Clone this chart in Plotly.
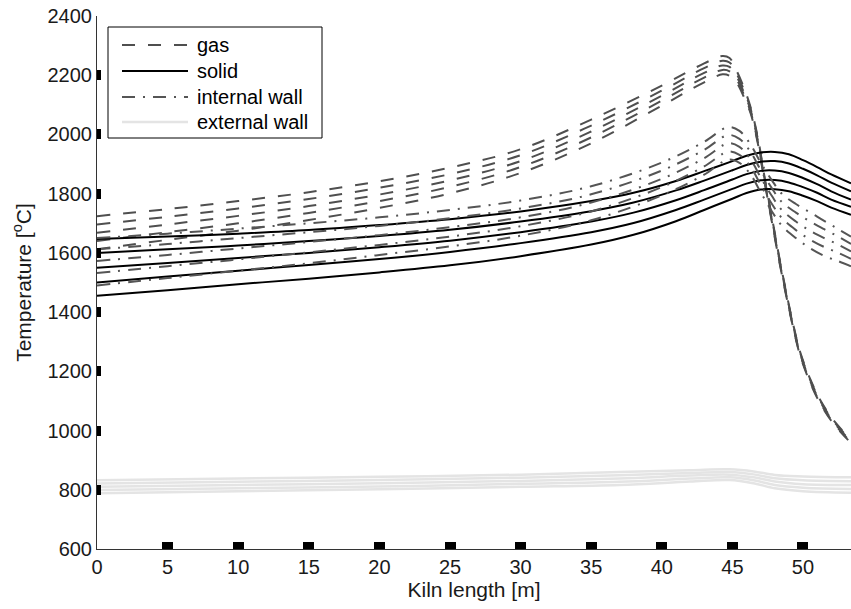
import plotly.graph_objects as go

# ---------------- data ----------------
x_gas = [0, 5, 10, 15, 20, 25, 30, 35, 40, 43, 44.3, 44.8, 45.3, 45.8, 46.3, 46.8,
         47.3, 47.8, 48.3, 48.8, 49.3, 49.8, 50.5, 51.2, 52.0, 52.7, 53.4]
gas_1 = [1724, 1748, 1775, 1805, 1842, 1888, 1950, 2050, 2165, 2240, 2265, 2258, 2215, 2160, 2090, 1990,
         1850, 1720, 1590, 1470, 1360, 1265, 1175, 1105, 1045, 1005, 970]
gas_2 = [1696, 1722, 1750, 1782, 1820, 1866, 1930, 2030, 2148, 2224, 2249, 2243, 2205, 2152, 2085, 1985,
         1846, 1716, 1587, 1467, 1357, 1262, 1172, 1102, 1042, 1002, 967]
gas_3 = [1668, 1696, 1725, 1758, 1797, 1845, 1910, 2010, 2131, 2208, 2233, 2228, 2195, 2144, 2080, 1980,
         1842, 1712, 1584, 1464, 1354, 1259, 1169, 1099, 1039, 999, 964]
gas_4 = [1640, 1670, 1700, 1735, 1775, 1823, 1890, 1990, 2114, 2192, 2218, 2213, 2185, 2136, 2075, 1975,
         1838, 1708, 1580, 1461, 1351, 1256, 1166, 1096, 1036, 996, 961]
gas_5 = [1612, 1644, 1675, 1711, 1752, 1801, 1870, 1970, 2097, 2176, 2203, 2198, 2175, 2128, 2070, 1970,
         1834, 1704, 1576, 1458, 1348, 1253, 1163, 1093, 1033, 993, 958]

x_solid = [0, 5, 10, 15, 20, 25, 30, 35, 38, 41, 43, 45, 46, 47, 48, 49, 50, 51, 52, 53.4]
solid_1 = [1647, 1655, 1665, 1677, 1694, 1714, 1740, 1775, 1803, 1843, 1876, 1910, 1928, 1939, 1941, 1933, 1913, 1890, 1865, 1835]
solid_2 = [1600, 1612, 1625, 1640, 1657, 1678, 1706, 1741, 1770, 1811, 1844, 1879, 1897, 1908, 1910, 1902, 1884, 1862, 1837, 1808]
solid_3 = [1550, 1566, 1583, 1600, 1619, 1641, 1670, 1706, 1736, 1778, 1812, 1848, 1866, 1877, 1878, 1870, 1853, 1832, 1808, 1780]
solid_4 = [1500, 1520, 1540, 1559, 1579, 1603, 1633, 1670, 1701, 1745, 1780, 1816, 1834, 1845, 1846, 1838, 1822, 1803, 1780, 1756]
solid_5 = [1455, 1474, 1494, 1513, 1534, 1558, 1589, 1628, 1661, 1707, 1745, 1783, 1802, 1814, 1815, 1808, 1793, 1775, 1753, 1729]

x_wall = [0, 5, 10, 15, 20, 25, 30, 35, 40, 43, 44.7, 45.5, 46.3, 47, 47.8, 48.5, 49.5, 50.5, 51.5, 52.5, 53.4]
wall_1 = [1650, 1665, 1682, 1700, 1720, 1745, 1777, 1825, 1905, 1975, 2025, 2012, 1965, 1905, 1845, 1800, 1765, 1737, 1708, 1680, 1655]
wall_2 = [1612, 1630, 1650, 1670, 1691, 1717, 1750, 1798, 1878, 1948, 1998, 1985, 1940, 1880, 1818, 1772, 1736, 1706, 1680, 1655, 1630]
wall_3 = [1573, 1593, 1615, 1637, 1660, 1687, 1720, 1770, 1850, 1920, 1970, 1958, 1915, 1855, 1792, 1745, 1706, 1675, 1650, 1628, 1605]
wall_4 = [1532, 1555, 1578, 1602, 1627, 1655, 1690, 1740, 1822, 1892, 1942, 1931, 1890, 1830, 1765, 1718, 1677, 1645, 1620, 1600, 1580]
wall_5 = [1490, 1515, 1540, 1565, 1593, 1622, 1658, 1710, 1794, 1864, 1915, 1904, 1864, 1805, 1740, 1692, 1650, 1616, 1590, 1572, 1555]

x_ext = [0, 10, 20, 30, 37, 42, 44.8, 46.5, 48, 50, 53.4]
ext_1 = [832, 838, 844, 851, 860, 866, 869, 862, 850, 845, 842]
ext_2 = [821, 827, 833, 841, 849, 857, 860, 852, 839, 832, 829]
ext_3 = [810, 816, 822, 830, 838, 848, 851, 842, 828, 819, 816]
ext_4 = [799, 805, 811, 820, 827, 838, 842, 832, 816, 807, 803]
ext_5 = [788, 795, 802, 810, 816, 828, 833, 822, 805, 795, 790]

x_ticks = [0, 5, 10, 15, 20, 25, 30, 35, 40, 45, 50]
y_ticks = [600, 800, 1000, 1200, 1400, 1600, 1800, 2000, 2200, 2400]

legend_labels = ["gas", "solid", "internal wall", "external wall"]

styles = [
    dict(color="#4f4f4f", width=2, dash="13px,13px"),
    dict(color="black", width=2),
    dict(color="#555555", width=2, dash="13px,8px,2px,8px"),
    dict(color="#e4e4e4", width=2.5),
]
groups = [
    (x_gas, [gas_1, gas_2, gas_3, gas_4, gas_5]),
    (x_solid, [solid_1, solid_2, solid_3, solid_4, solid_5]),
    (x_wall, [wall_1, wall_2, wall_3, wall_4, wall_5]),
    (x_ext, [ext_1, ext_2, ext_3, ext_4, ext_5]),
]

fig = go.Figure()
for name, (xs, series), style in zip(legend_labels, groups, styles):
    for ys in series:
        fig.add_trace(go.Scatter(
            x=xs, y=ys, mode="lines", name=name, showlegend=False,
            line=dict(shape="spline", smoothing=1.0, **style),
        ))

FAM = "Liberation Sans, Arial, sans-serif"

# ---- hand-drawn legend box (paper coordinates) ----
L, T, W, H = 97, 16, 754, 533          # plot area in pixels
px = lambda p: (p - L) / W
py = lambda p: 1 - (p - T) / H
shapes = [dict(type="rect", xref="paper", yref="paper",
               x0=px(108), x1=px(322), y0=py(138), y1=py(27),
               line=dict(color="black", width=1), fillcolor="white", layer="above")]
annotations = []
row_y = [45, 71, 97, 122]
for lab, style, ry in zip(legend_labels, styles, row_y):
    shapes.append(dict(type="line", xref="paper", yref="paper",
                       x0=px(122), x1=px(188), y0=py(ry), y1=py(ry),
                       line=style, layer="above"))
    annotations.append(dict(text=lab, xref="paper", yref="paper",
                            x=px(195), y=py(ry), xanchor="left", yanchor="middle",
                            showarrow=False, font=dict(family=FAM, size=20, color="black")))

fig.update_layout(
    width=851, height=609,
    margin=dict(l=97, r=0, t=16, b=60),
    paper_bgcolor="white", plot_bgcolor="white",
    font=dict(family=FAM, size=20, color="#1a1a1a"),
    showlegend=False,
    shapes=shapes, annotations=annotations,
    xaxis=dict(
        range=[0, 53.4], tickvals=x_ticks, ticktext=[str(v) for v in x_ticks],
        showgrid=False, zeroline=False,
        showline=True, linecolor="#333333", linewidth=1,
        ticks="inside", ticklen=7, tickwidth=11, tickcolor="black",
        tickfont=dict(family=FAM, size=20, color="#1a1a1a"),
        title=dict(text="Kiln length [m]", standoff=4, font=dict(family=FAM, size=21, color="#1a1a1a")),
    ),
    yaxis=dict(
        range=[600, 2400], tickvals=y_ticks, ticktext=[str(v) for v in y_ticks],
        showgrid=False, zeroline=False,
        showline=True, linecolor="#333333", linewidth=1,
        ticks="inside", ticklen=4, tickwidth=10, tickcolor="black",
        tickfont=dict(family=FAM, size=20, color="#1a1a1a"),
        title=dict(text="Temperature [<sup>o</sup>C]", standoff=10, font=dict(family=FAM, size=21, color="#1a1a1a")),
    ),
)

fig.write_html("out.html")
